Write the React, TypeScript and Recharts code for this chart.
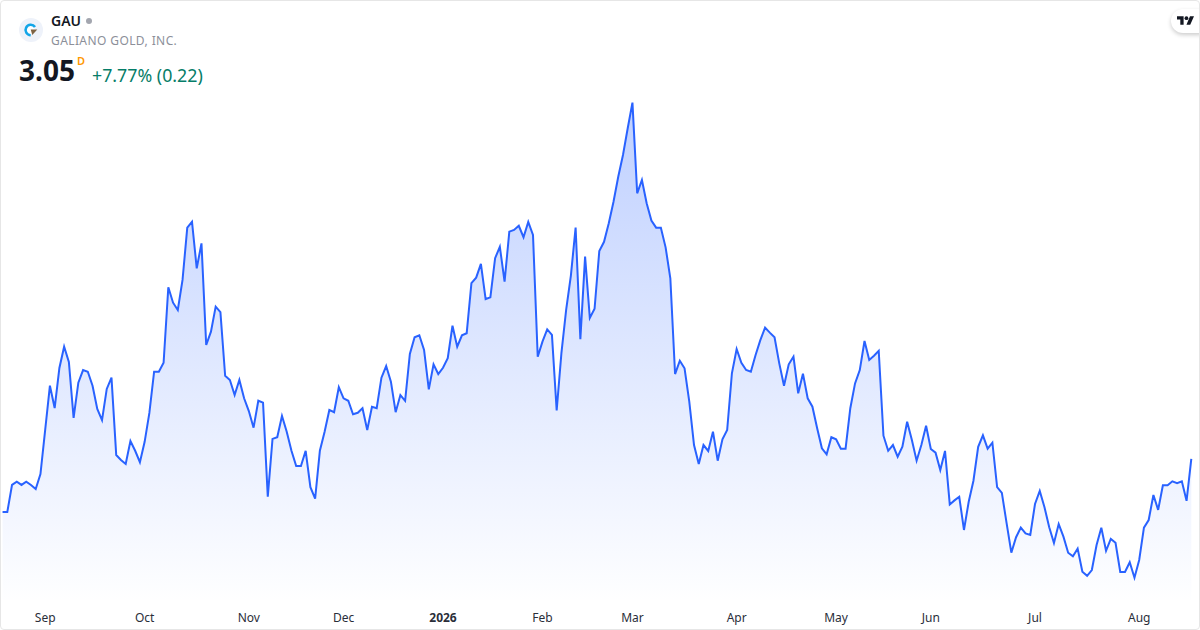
import { Area, AreaChart, XAxis, YAxis } from 'recharts';

// Daily closes
const closes = [
  2.771, 2.771, 2.913, 2.93, 2.913, 2.93, 2.913, 2.892, 2.97, 3.201,
  3.433, 3.316, 3.526, 3.637, 3.557, 3.264, 3.449, 3.515, 3.506, 3.433,
  3.311, 3.253, 3.416, 3.475, 3.07, 3.044, 3.023, 3.143, 3.092, 3.032,
  3.139, 3.29, 3.506, 3.506, 3.553, 3.949, 3.868, 3.83, 3.987, 4.261,
  4.292, 4.048, 4.179, 3.646, 3.716, 3.847, 3.818, 3.485, 3.463, 3.384,
  3.463, 3.367, 3.3, 3.213, 3.354, 3.344, 2.851, 3.154, 3.163, 3.274,
  3.192, 3.092, 3.012, 3.012, 3.092, 2.901, 2.841, 3.092, 3.192, 3.306,
  3.294, 3.425, 3.367, 3.354, 3.283, 3.291, 3.315, 3.201, 3.323, 3.315,
  3.475, 3.536, 3.454, 3.294, 3.384, 3.354, 3.599, 3.687, 3.697, 3.62,
  3.414, 3.545, 3.494, 3.527, 3.577, 3.747, 3.637, 3.697, 3.708, 3.97,
  3.999, 4.071, 3.887, 3.896, 4.101, 4.161, 3.978, 4.24, 4.249, 4.271,
  4.211, 4.291, 4.223, 3.585, 3.664, 3.728, 3.699, 3.303, 3.604, 3.83,
  4.01, 4.262, 3.677, 4.109, 3.788, 3.836, 4.139, 4.187, 4.284, 4.397,
  4.528, 4.642, 4.782, 4.916, 4.441, 4.511, 4.389, 4.298, 4.261, 4.261,
  4.158, 3.996, 3.494, 3.564, 3.524, 3.349, 3.122, 3.023, 3.122, 3.091,
  3.192, 3.04, 3.152, 3.201, 3.498, 3.625, 3.553, 3.515, 3.506, 3.594,
  3.672, 3.737, 3.711, 3.687, 3.55, 3.433, 3.545, 3.585, 3.393, 3.496,
  3.367, 3.323, 3.21, 3.105, 3.073, 3.163, 3.152, 3.103, 3.103, 3.315,
  3.445, 3.515, 3.667, 3.568, 3.59, 3.616, 3.171, 3.092, 3.122, 3.061,
  3.113, 3.244, 3.148, 3.04, 3.122, 3.223, 3.101, 3.082, 2.991, 3.091,
  2.811, 2.832, 2.851, 2.677, 2.825, 2.935, 3.113, 3.173, 3.103, 3.134,
  2.901, 2.871, 2.713, 2.558, 2.639, 2.689, 2.659, 2.651, 2.813, 2.881,
  2.796, 2.691, 2.609, 2.708, 2.642, 2.558, 2.539, 2.579, 2.458, 2.437,
  2.467, 2.598, 2.689, 2.568, 2.63, 2.61, 2.457, 2.457, 2.508, 2.427,
  2.52, 2.689, 2.729, 2.86, 2.782, 2.911, 2.911, 2.932, 2.922, 2.932,
  2.83, 3.05,
];

// Session index of the first trading day shown for each month
const tickSessions = [9, 30, 52, 72, 93, 114, 133, 155, 176, 196, 218, 240];
const tickLabels = ['Sep', 'Oct', 'Nov', 'Dec', '2026', 'Feb', 'Mar', 'Apr', 'May', 'Jun', 'Jul', 'Aug'];

const rows = closes.map((close, session) => ({ session, close }));

const FONT = '"Noto Sans", sans-serif';

function MonthTick({ x, y, payload }: any) {
  const label = tickLabels[tickSessions.indexOf(payload.value)];
  return (
    <text
      x={x}
      y={y + 14}
      textAnchor="middle"
      fontFamily={FONT}
      fontSize={12}
      fontWeight={label === '2026' ? 700 : 400}
      fill="#2a2e39"
    >
      {label}
    </text>
  );
}

function Logo() {
  return (
    <svg width={24} height={24} viewBox="0 0 24 24" style={{ position: 'absolute', left: 19, top: 18 }}>
      <circle cx={12} cy={12} r={12} fill="#eef2fa" />
      <circle cx={11.7} cy={12} r={4} fill="#fff" />
      <path d="M16 9 A5.2 5.2 0 1 0 11.7 17.2" fill="none" stroke="#12a5e8" strokeWidth={2.6} />
      <path d="M11.7 11.6 H18.3 L13.3 17 Z" fill="#7d6344" />
    </svg>
  );
}

function Badge() {
  return (
    <div
      style={{
        position: 'absolute',
        left: 1171,
        top: 9,
        width: 40,
        height: 24,
        borderRadius: 12,
        background: '#fff',
        boxShadow: '0 2px 4px rgba(0,0,0,0.2)',
      }}
    >
      <svg width={17} height={9} viewBox="0 0 36 18" style={{ position: 'absolute', left: 6, top: 7 }}>
        <path d="M14 18H7V7H0V0h14v18z M28 18h-8l7.5-18H36l-8 18z" fill="#131722" />
        <circle cx={20} cy={4} r={4} fill="#131722" />
      </svg>
    </div>
  );
}

export default function App() {
  return (
    <div
      style={{
        position: 'fixed',
        left: 0,
        top: 0,
        width: 1200,
        height: 630,
        overflow: 'hidden',
        background: '#fff',
        fontFamily: FONT,
      }}
    >
      <AreaChart
        width={1200}
        height={630}
        data={rows}
        margin={{ top: 0, right: 8.7, bottom: 0, left: 2.56 }}
      >
        <defs>
          <linearGradient id="closeFill" x1="0" y1="0" x2="0" y2="1">
            <stop offset="0%" stopColor="#2962ff" stopOpacity={0.3} />
            <stop offset="100%" stopColor="#2962ff" stopOpacity={0.005} />
          </linearGradient>
        </defs>
        <XAxis
          dataKey="session"
          type="number"
          domain={[0, 251]}
          ticks={tickSessions}
          interval={0}
          height={30}
          axisLine={false}
          tickLine={false}
          tick={MonthTick}
        />
        <YAxis hide domain={[2.31, 5.454]} />
        <Area
          type="linear"
          dataKey="close"
          stroke="#2962ff"
          strokeWidth={2}
          fill="url(#closeFill)"
          fillOpacity={1}
          dot={false}
          activeDot={false}
          isAnimationActive={false}
        />
      </AreaChart>

      <Logo />
      <div style={{ position: 'absolute', left: 51, top: 11, fontSize: 14, fontWeight: 600, color: '#131722', lineHeight: '19px' }}>
        GAU
      </div>
      <div style={{ position: 'absolute', left: 86, top: 18, width: 6, height: 6, borderRadius: 3, background: '#a3a6af' }} />
      <div style={{ position: 'absolute', left: 51, top: 32, fontSize: 12, color: '#8c8f99', letterSpacing: 0.4, lineHeight: '17px' }}>
        GALIANO GOLD, INC.
      </div>
      <div style={{ position: 'absolute', left: 19, top: 51, fontSize: 28, fontWeight: 700, color: '#131722', lineHeight: '38px' }}>
        3.05
      </div>
      <div style={{ position: 'absolute', left: 77, top: 53, fontSize: 11, fontWeight: 600, color: '#ff9800', lineHeight: '15px' }}>
        D
      </div>
      <div style={{ position: 'absolute', left: 92, top: 63, fontSize: 17.8, color: '#067d68', lineHeight: '24px' }}>
        +7.77% (0.22)
      </div>
      <Badge />

      <div
        style={{
          position: 'absolute',
          left: 0,
          top: 0,
          width: 1200,
          height: 630,
          boxSizing: 'border-box',
          border: '1px solid #e6e6e6',
          borderRadius: 4,
          pointerEvents: 'none',
        }}
      />
    </div>
  );
}
